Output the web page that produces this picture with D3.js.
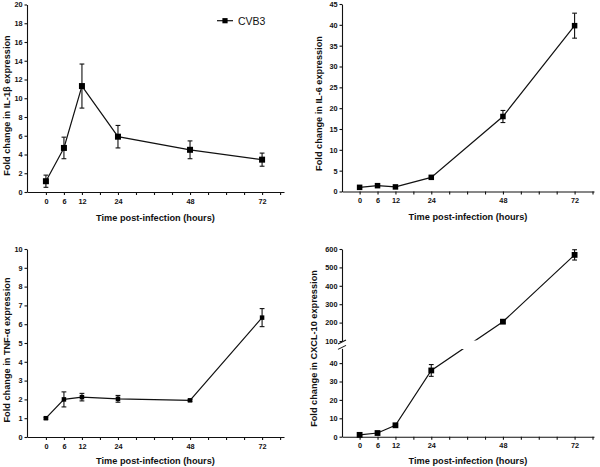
<!DOCTYPE html>
<html>
<head>
<meta charset="utf-8">
<script src="https://cdn.jsdelivr.net/npm/d3@7"></script>
<style>
  html, body { margin: 0; padding: 0; background: #fff; }
  svg { display: block; font-family: "Liberation Sans", Arial, sans-serif; }
</style>
</head>
<body>
<svg id="chart" width="600" height="467"></svg>
<script>
// ---- data ----
const hours = [0, 6, 12, 24, 48, 72];
const xTickLabels = [0, 6, 12, 24, 48, 72];
const xMinorTicks = [0, 6, 12, 18, 24, 30, 36, 42, 48, 54, 60, 66, 72, 78];

const il1b = [1.15, 4.7, 11.3, 5.9, 4.5, 3.45];
const il1bErr = [0.65, 1.15, 2.35, 1.2, 0.95, 0.7];
const il1bTicks = [0, 2, 4, 6, 8, 10, 12, 14, 16, 18, 20];

const il6 = [1.0, 1.4, 1.1, 3.4, 18.0, 39.8];
const il6Err = [0.2, 0.2, 0.2, 0.3, 1.45, 3.0];
const il6Ticks = [0, 5, 10, 15, 20, 25, 30, 35, 40, 45];

const tnf = [1.0, 2.0, 2.12, 2.03, 1.95, 6.35];
const tnfErr = [0.05, 0.4, 0.2, 0.18, 0.05, 0.48];
const tnfTicks = [0, 1, 2, 3, 4, 5, 6, 7, 8, 9, 10];

const cxcl = [1, 2, 6.2, 36, 205, 568];
const cxclErr = [0.3, 0.4, 0.5, 3.2, 8, 28];
const cxclLowTicks = [0, 10, 20, 30, 40];
const cxclHighTicks = [100, 200, 300, 400, 500, 600];

const legendLabel = "CVB3";
const xTitle = "Time post-infection (hours)";

// ---- layout ----
const svg = d3.select("#chart");
const FONT = "'Liberation Sans', Arial, sans-serif";
const ink = "#111";

const panels = [
  { vals: il1b, err: il1bErr, title: "Fold change in IL-1\u03b2 expression",
    x0: 27, x1: 284, xd: [-6.3, 79.3], yTop: 4.5, yBot: 192, yd: [0, 20], yTicks: il1bTicks,
    ms: 6, tX: 7, tY: 105.5, legend: true },
  { vals: il6, err: il6Err, title: "Fold change in IL-6 expression",
    x0: 342, x1: 594, xd: [-5.9, 78.5], yTop: 4, yBot: 191.5, yd: [0, 45], yTicks: il6Ticks,
    ms: 5.5, tX: 319, tY: 103.5 },
  { vals: tnf, err: tnfErr, title: "Fold change in TNF-\u03b1 expression",
    x0: 27, x1: 284, xd: [-6.3, 79.3], yTop: 249, yBot: 437, yd: [0, 10], yTicks: tnfTicks,
    ms: 4.5, tX: 7, tY: 350 },
  { vals: cxcl, err: cxclErr, title: "Fold change in CXCL-10 expression",
    x0: 342, x1: 594, xd: [-5.9, 78.5], yTop: 249, yBot: 436.7, broken: true,
    ms: 5.8, tX: 314, tY: 348.5 }
];

function styleAxis(g) {
  g.selectAll("path.domain").attr("stroke", ink).attr("stroke-width", 1.1);
  g.selectAll(".tick line").attr("stroke", ink).attr("stroke-width", 1.1);
  g.selectAll(".tick text").attr("fill", ink)
    .style("font-family", FONT).style("font-size", "7.3px").style("font-weight", "bold");
}

panels.forEach((p, pi) => {
  const g = svg.append("g");
  const x = d3.scaleLinear().domain(p.xd).range([p.x0, p.x1]);

  let y;
  if (!p.broken) {
    y = d3.scaleLinear().domain(p.yd).range([p.yBot, p.yTop]);
    const ya = g.append("g").attr("transform", `translate(${p.x0},0)`)
      .call(d3.axisLeft(y).tickValues(p.yTicks).tickSize(2.5).tickSizeOuter(0).tickPadding(2));
    styleAxis(ya);
  } else {
    // broken axis: lower 0-48, upper 100-600
    const pxPerUnit = 1.84;
    const lowMax = 48;
    const yLow = d3.scaleLinear().domain([0, lowMax]).range([p.yBot, p.yBot - lowMax * pxPerUnit]);
    const upBottom = 341;
    const yHigh = d3.scaleLinear().domain([100, 600]).range([upBottom, p.yTop]);
    y = v => v <= lowMax ? yLow(v) : yHigh(v);
    p.gapTop = upBottom; p.gapBot = yLow(lowMax);
    const ya1 = g.append("g").attr("transform", `translate(${p.x0},0)`)
      .call(d3.axisLeft(yLow).tickValues(cxclLowTicks).tickSize(2.5).tickSizeOuter(0).tickPadding(2));
    styleAxis(ya1);
    const ya2 = g.append("g").attr("transform", `translate(${p.x0},0)`)
      .call(d3.axisLeft(yHigh).tickValues(cxclHighTicks).tickSize(2.5).tickSizeOuter(0).tickPadding(2));
    styleAxis(ya2);
    // break marks
    [p.gapTop + 1, p.gapBot - 1].forEach(yy => {
      g.append("line").attr("x1", p.x0 - 4).attr("x2", p.x0 + 4)
        .attr("y1", yy + 2).attr("y2", yy - 2)
        .attr("stroke", ink).attr("stroke-width", 1.1);
    });
  }

  // x axis
  const xa = g.append("g").attr("transform", `translate(0,${p.yBot})`)
    .call(d3.axisBottom(x).tickValues(xMinorTicks).tickSize(3).tickSizeOuter(0).tickPadding(3.5)
      .tickFormat(d => xTickLabels.includes(d) ? d : ""));
  styleAxis(xa);

  // titles
  g.append("text").attr("x", (p.x0 + p.x1) / 2).attr("y", p.yBot + (pi < 2 ? 28.5 : 27))
    .attr("text-anchor", "middle").attr("fill", ink)
    .style("font-family", FONT).style("font-size", "9.2px").style("font-weight", "bold")
    .text(xTitle);
  g.append("text").attr("transform", `translate(${p.tX + 3.3},${p.tY}) rotate(-90)`)
    .attr("text-anchor", "middle").attr("fill", ink)
    .style("font-family", FONT).style("font-size", "9.2px").style("font-weight", "bold")
    .text(p.title);

  // data line
  const pts = hours.map((h, i) => [x(h), y(p.vals[i])]);
  const lineG = g.append("g");
  if (p.broken) {
    const cid = "clip" + pi;
    const cp = svg.append("defs").append("clipPath").attr("id", cid);
    cp.append("rect").attr("x", 0).attr("y", 0).attr("width", 600).attr("height", p.gapTop - 0.5);
    cp.append("rect").attr("x", 0).attr("y", p.gapBot + 0.5).attr("width", 600).attr("height", 467);
    lineG.attr("clip-path", `url(#${cid})`);
  }
  lineG.append("path").attr("d", d3.line()(pts))
    .attr("fill", "none").attr("stroke", ink).attr("stroke-width", 1.2);

  // error bars
  const cap = 2.4;
  hours.forEach((h, i) => {
    const cx = x(h), hi = y(p.vals[i] + p.err[i]), lo = y(p.vals[i] - p.err[i]);
    g.append("line").attr("x1", cx).attr("x2", cx).attr("y1", hi).attr("y2", lo)
      .attr("stroke", ink).attr("stroke-width", 1.1);
    [hi, lo].forEach(yy => g.append("line").attr("x1", cx - cap).attr("x2", cx + cap)
      .attr("y1", yy).attr("y2", yy).attr("stroke", ink).attr("stroke-width", 1.1));
  });

  // markers
  g.selectAll("rect.m").data(pts).join("rect")
    .attr("x", d => d[0] - p.ms / 2).attr("y", d => d[1] - p.ms / 2)
    .attr("width", p.ms).attr("height", p.ms).attr("fill", "#000");

  if (p.legend) {
    const ly = 20.7;
    g.append("line").attr("x1", 217).attr("x2", 233).attr("y1", ly).attr("y2", ly)
      .attr("stroke", ink).attr("stroke-width", 1.2);
    g.append("rect").attr("x", 225 - 2.6).attr("y", ly - 2.6).attr("width", 5.2).attr("height", 5.2).attr("fill", "#000");
    g.append("text").attr("x", 238).attr("y", ly + 3.8).attr("fill", ink)
      .style("font-family", FONT).style("font-size", "10.5px").text(legendLabel);
  }
});
</script>
</body>
</html>
